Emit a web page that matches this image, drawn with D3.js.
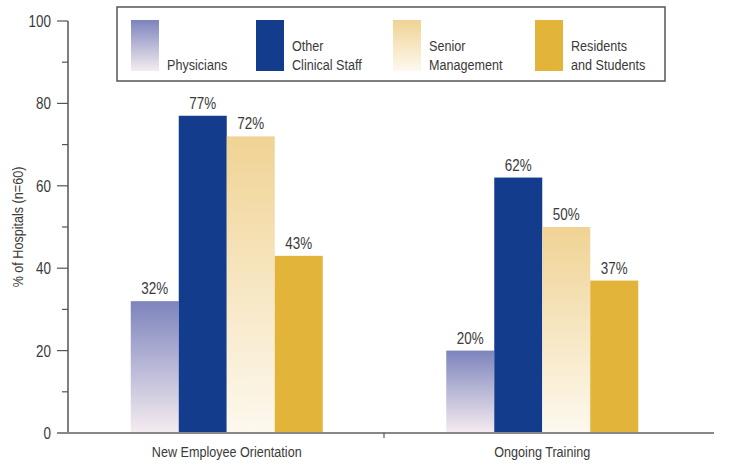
<!DOCTYPE html>
<html>
<head>
<meta charset="utf-8">
<script src="https://cdn.jsdelivr.net/npm/d3@7"></script>
<style>
  body { margin: 0; background: #fff; }
  text { font-family: "Liberation Sans", Arial, sans-serif; fill: #3a3a3a; }
</style>
</head>
<body>
<script>
var categories = ['New Employee Orientation', 'Ongoing Training'];
var groups = ['Physicians', 'Other Clinical Staff', 'Senior Management', 'Residents and Students'];
var legendLines = [['Physicians'], ['Other', 'Clinical Staff'], ['Senior', 'Management'], ['Residents', 'and Students']];
var physicians = [32, 20];
var otherStaff = [77, 62];
var seniorMgmt = [72, 50];
var residents = [43, 37];
var yTicks = [0, 20, 40, 60, 80, 100];

var series = [physicians, otherStaff, seniorMgmt, residents];
var fills = ['url(#gPhys)', '#143c8c', 'url(#gSenior)', '#e2b43a'];

var width = 731, height = 470;
var narrow = 0.84; // condensed look
var svg = d3.select('body').append('svg').attr('width', width).attr('height', height);

// text squeezed horizontally, anchored at (x,y)
function label(parent, x, y, str, size, anchor, rot) {
  return parent.append('text')
    .attr('transform', 'translate(' + x + ',' + y + ')' + (rot ? ' rotate(' + rot + ')' : '') + ' scale(' + narrow + ',1)')
    .attr('text-anchor', anchor || 'start')
    .attr('font-size', size)
    .text(str);
}

var defs = svg.append('defs');
function grad(id, top, bottom) {
  var g = defs.append('linearGradient').attr('id', id)
    .attr('x1', 0).attr('y1', 0).attr('x2', 0).attr('y2', 1);
  g.append('stop').attr('offset', '0%').attr('stop-color', top);
  g.append('stop').attr('offset', '100%').attr('stop-color', bottom);
}
grad('gPhys', '#7d84bd', '#f5ecf0');
grad('gSenior', '#f0d394', '#fdf9ef');

var y = d3.scaleLinear().domain([0, 100]).range([433, 21]);
var x0 = d3.scaleBand().domain(categories).range([69, 700]);
var x1 = d3.scaleBand().domain(d3.range(groups.length)).range([0, 192]);

// bars
categories.forEach(function(c, ci) {
  var g = svg.append('g')
    .attr('transform', 'translate(' + (x0(c) + x0.bandwidth() / 2 - 96) + ',0)');
  series.forEach(function(s, si) {
    g.append('rect')
      .attr('x', x1(si))
      .attr('y', y(s[ci]))
      .attr('width', x1.bandwidth())
      .attr('height', y(0) - y(s[ci]))
      .attr('fill', fills[si]);
    label(g, x1(si) + x1.bandwidth() / 2, y(s[ci]) - 7, s[ci] + '%', 16, 'middle');
  });
});

// y axis
svg.append('line').attr('x1', 68).attr('x2', 68).attr('y1', 21).attr('y2', 433)
  .attr('stroke', '#555').attr('stroke-width', 1.5);
d3.range(0, 101, 10).forEach(function(v) {
  var major = v % 20 == 0;
  svg.append('line')
    .attr('x1', major ? 57 : 62).attr('x2', 68)
    .attr('y1', y(v)).attr('y2', y(v))
    .attr('stroke', '#555').attr('stroke-width', 1.2);
});
yTicks.forEach(function(d) {
  label(svg, 51, y(d) + 6, d, 16, 'end');
});

label(svg, 23, 227, '% of Hospitals (n=60)', 15, 'middle', -90);

// x axis
svg.append('line').attr('x1', 57).attr('x2', 714).attr('y1', 433).attr('y2', 433)
  .attr('stroke', '#888').attr('stroke-width', 2);
svg.append('line').attr('x1', 384).attr('x2', 384).attr('y1', 433).attr('y2', 438)
  .attr('stroke', '#555').attr('stroke-width', 1.2);
categories.forEach(function(d) {
  label(svg, x0(d) + x0.bandwidth() / 2, 457, d, 15, 'middle');
});

// legend
svg.append('rect').attr('x', 117).attr('y', 7).attr('width', 548).attr('height', 74)
  .attr('fill', 'none').attr('stroke', '#555').attr('stroke-width', 1.5);
var legX = [131, 256, 393, 535];
groups.forEach(function(gname, i) {
  svg.append('rect').attr('x', legX[i]).attr('y', 20).attr('width', 28).attr('height', 51)
    .attr('fill', fills[i]);
  var lines = legendLines[i];
  lines.forEach(function(l, li) {
    label(svg, legX[i] + 36, 70 - (lines.length - 1 - li) * 19, l, 15);
  });
});
</script>
</body>
</html>
